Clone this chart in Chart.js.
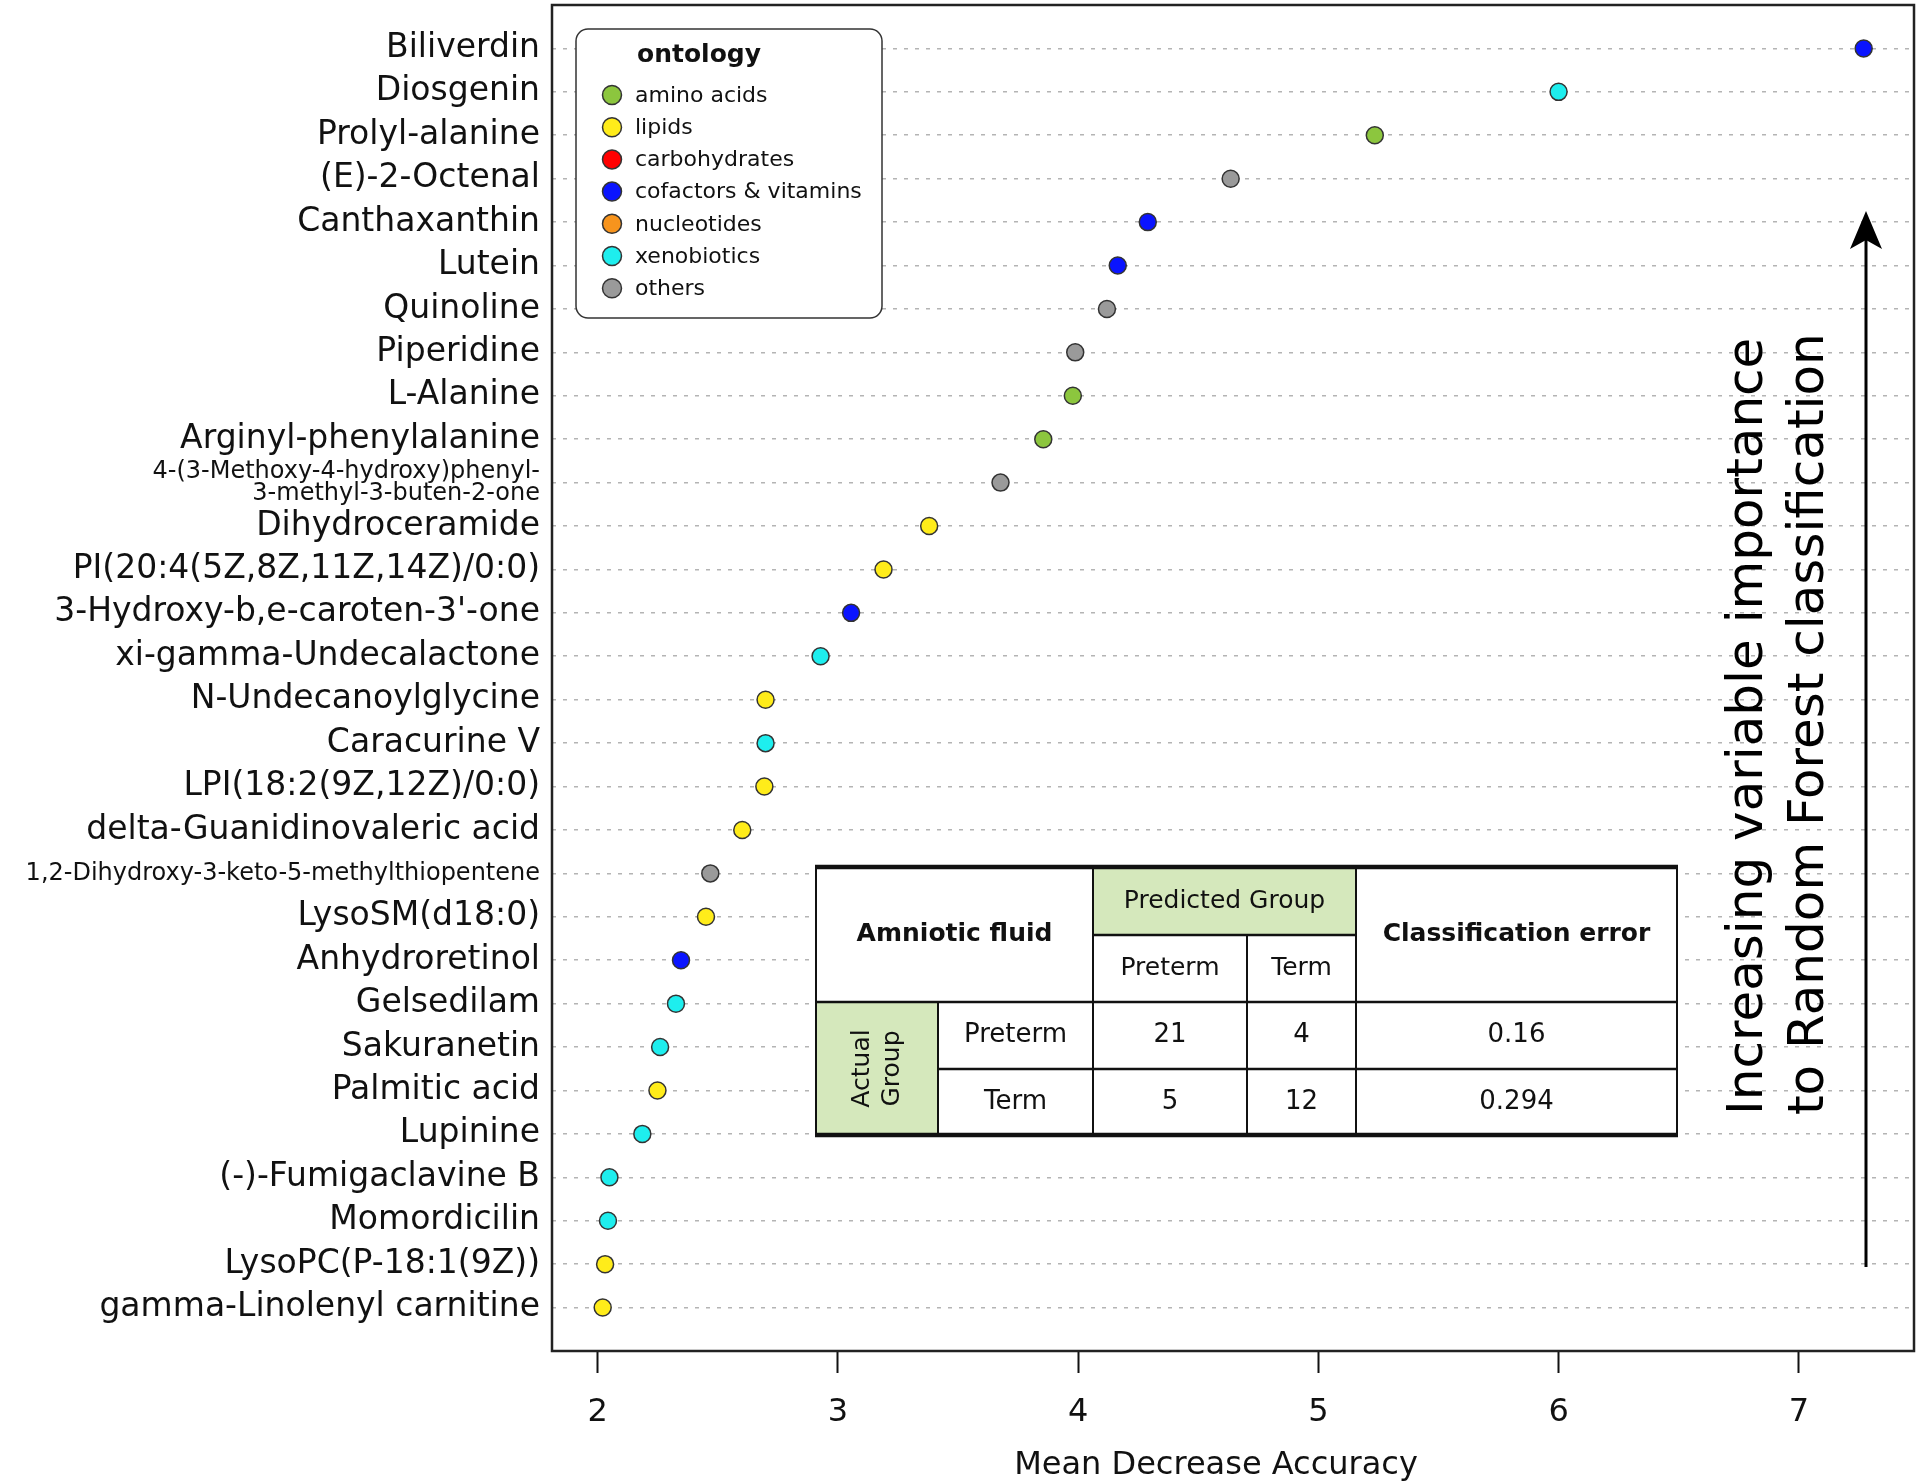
<!DOCTYPE html>
<html><head><meta charset="utf-8">
<script src="https://cdn.jsdelivr.net/npm/chart.js@4.4.1/dist/chart.umd.min.js"></script>
<style>html,body{margin:0;padding:0;background:#fff;}canvas{display:block;}</style>
</head><body>
<canvas id="c" width="1920" height="1484"></canvas>
<script>
// ---------- data ----------
const compounds = [
  'Biliverdin','Diosgenin','Prolyl-alanine','(E)-2-Octenal','Canthaxanthin','Lutein','Quinoline',
  'Piperidine','L-Alanine','Arginyl-phenylalanine','4-(3-Methoxy-4-hydroxy)phenyl-\n3-methyl-3-buten-2-one',
  'Dihydroceramide','PI(20:4(5Z,8Z,11Z,14Z)/0:0)',"3-Hydroxy-b,e-caroten-3'-one",'xi-gamma-Undecalactone',
  'N-Undecanoylglycine','Caracurine V','LPI(18:2(9Z,12Z)/0:0)','delta-Guanidinovaleric acid',
  '1,2-Dihydroxy-3-keto-5-methylthiopentene','LysoSM(d18:0)','Anhydroretinol','Gelsedilam','Sakuranetin',
  'Palmitic acid','Lupinine','(-)-Fumigaclavine B','Momordicilin','LysoPC(P-18:1(9Z))','gamma-Linolenyl carnitine'
];
const importance = [
  7.27, 6.00, 5.235, 4.635, 4.29, 4.165, 4.12,
  3.988, 3.978, 3.855, 3.677,
  3.38, 3.19, 3.055, 2.928,
  2.699, 2.699, 2.694, 2.602,
  2.469, 2.451, 2.347, 2.326, 2.26,
  2.249, 2.186, 2.049, 2.043, 2.031, 2.021
];
const ontology = [
  'cofactors & vitamins','xenobiotics','amino acids','others','cofactors & vitamins','cofactors & vitamins','others',
  'others','amino acids','amino acids','others',
  'lipids','lipids','cofactors & vitamins','xenobiotics',
  'lipids','xenobiotics','lipids','lipids',
  'others','lipids','cofactors & vitamins','xenobiotics','xenobiotics',
  'lipids','xenobiotics','xenobiotics','xenobiotics','lipids','lipids'
];
const ontologyLabels = ['amino acids','lipids','carbohydrates','cofactors & vitamins','nucleotides','xenobiotics','others'];
const ontologyColors = ['#8cc63e','#ffec1a','#ff0000','#0a14ff','#f7941d','#1eeeee','#9a9a9a'];
const legendTitle = 'ontology';
const xTicks = [2, 3, 4, 5, 6, 7];
const xTitle = 'Mean Decrease Accuracy';
const arrowText = ['Increasing variable importance', 'to Random Forest classification'];
const tableCorner = 'Amniotic fluid';
const predictedHeader = 'Predicted Group';
const actualHeader = ['Actual', 'Group'];
const errorHeader = 'Classification error';
const groupNames = ['Preterm', 'Term'];
const confusion = [[21, 4], [5, 12]];
const classError = ['0.16', '0.294'];

// ---------- chart ----------
const FONT = "'DejaVu Sans', 'Liberation Sans', sans-serif";
Chart.defaults.font.family = FONT;
Chart.defaults.color = '#111';

const rowIdx = compounds.map((_, i) => i + 1);
const points = compounds.map((_, i) => ({ x: importance[i], y: i + 1 }));
const pointColors = ontology.map(o => ontologyColors[ontologyLabels.indexOf(o)]);

function roundRectPath(ctx, x, y, w, h, r) {
  ctx.beginPath();
  ctx.moveTo(x + r, y);
  ctx.lineTo(x + w - r, y);
  ctx.arcTo(x + w, y, x + w, y + r, r);
  ctx.lineTo(x + w, y + h - r);
  ctx.arcTo(x + w, y + h, x + w - r, y + h, r);
  ctx.lineTo(x + r, y + h);
  ctx.arcTo(x, y + h, x, y + h - r, r);
  ctx.lineTo(x, y + r);
  ctx.arcTo(x, y, x + r, y, r);
  ctx.closePath();
}

function noPad(s) {
  s.paddingTop = 0; s.paddingBottom = 0; s.paddingLeft = 0; s.paddingRight = 0;
}

const decor = {
  id: 'decor',
  afterDraw(chart) {
    const ctx = chart.ctx;
    const a = chart.chartArea;
    ctx.save();

    // plot frame
    ctx.strokeStyle = '#222';
    ctx.lineWidth = 2.5;
    ctx.strokeRect(a.left, a.top, a.right - a.left, a.bottom - a.top);

    // x axis title
    ctx.fillStyle = '#111';
    ctx.font = '32px ' + FONT;
    ctx.textAlign = 'center';
    ctx.textBaseline = 'middle';
    ctx.fillText(xTitle, 1216, 1466);

    // legend
    ctx.fillStyle = '#fff';
    roundRectPath(ctx, 576, 29, 306, 289, 12);
    ctx.fill();
    ctx.strokeStyle = '#333';
    ctx.lineWidth = 1.5;
    ctx.stroke();
    ctx.fillStyle = '#111';
    ctx.font = 'bold 25px ' + FONT;
    ctx.textAlign = 'center';
    ctx.fillText(legendTitle, 699, 55);
    ctx.font = '22px ' + FONT;
    ctx.textAlign = 'left';
    ontologyLabels.forEach((lab, i) => {
      const y = 95 + i * 32.2;
      ctx.beginPath();
      ctx.arc(612, y, 9.5, 0, Math.PI * 2);
      ctx.fillStyle = ontologyColors[i];
      ctx.fill();
      ctx.strokeStyle = '#333';
      ctx.lineWidth = 1.5;
      ctx.stroke();
      ctx.fillStyle = '#111';
      ctx.fillText(lab, 635, y + 1);
    });

    // arrow
    ctx.strokeStyle = '#000';
    ctx.lineWidth = 3;
    ctx.beginPath();
    ctx.moveTo(1866, 1267);
    ctx.lineTo(1866, 240);
    ctx.stroke();
    ctx.fillStyle = '#000';
    ctx.beginPath();
    ctx.moveTo(1866, 211);
    ctx.lineTo(1882, 249);
    ctx.lineTo(1866, 240);
    ctx.lineTo(1850, 249);
    ctx.closePath();
    ctx.fill();

    // rotated annotation
    ctx.font = '50px ' + FONT;
    ctx.textAlign = 'left';
    ctx.textBaseline = 'alphabetic';
    ctx.fillStyle = '#000';
    [1762, 1823].forEach((bx, i) => {
      ctx.save();
      ctx.translate(bx, 1115);
      ctx.rotate(-Math.PI / 2);
      ctx.fillText(arrowText[i], 0, 0);
      ctx.restore();
    });

    // table
    const X = [816, 938, 1093, 1247, 1356, 1677];
    const Y = [867, 935, 1002, 1069, 1135];
    ctx.fillStyle = '#fff';
    ctx.fillRect(X[0], Y[0], X[5] - X[0], Y[4] - Y[0]);
    ctx.fillStyle = '#d5e8bc';
    ctx.fillRect(X[2], Y[0], X[4] - X[2], Y[1] - Y[0]);
    ctx.fillRect(X[0], Y[2], X[1] - X[0], Y[4] - Y[2]);
    ctx.strokeStyle = '#111';
    const line = (x1, y1, x2, y2, w) => {
      ctx.lineWidth = w;
      ctx.beginPath(); ctx.moveTo(x1, y1); ctx.lineTo(x2, y2); ctx.stroke();
    };
    line(X[0], Y[0], X[0], Y[4], 2);
    line(X[5], Y[0], X[5], Y[4], 2);
    line(X[2], Y[0], X[2], Y[4], 2);
    line(X[4], Y[0], X[4], Y[4], 2);
    line(X[3], Y[1], X[3], Y[4], 2);
    line(X[1], Y[2], X[1], Y[4], 2);
    line(X[2], Y[1], X[4], Y[1], 2.5);
    line(X[0], Y[2], X[5], Y[2], 2.5);
    line(X[1], Y[3], X[5], Y[3], 2.5);
    line(X[0] - 1, Y[0], X[5] + 1, Y[0], 4.5);
    line(X[0] - 1, Y[4], X[5] + 1, Y[4], 4.5);

    ctx.fillStyle = '#111';
    ctx.textAlign = 'center';
    ctx.textBaseline = 'middle';
    const cx = (i, j) => (X[i] + X[j]) / 2;
    const cy = (i, j) => (Y[i] + Y[j]) / 2;
    ctx.font = 'bold 25px ' + FONT;
    ctx.fillText(tableCorner, cx(0, 2), cy(0, 2));
    ctx.fillText(errorHeader, cx(4, 5), cy(0, 2));
    ctx.font = '25px ' + FONT;
    ctx.fillText(predictedHeader, cx(2, 4), cy(0, 1));
    ctx.fillText(groupNames[0], cx(2, 3), cy(1, 2));
    ctx.fillText(groupNames[1], cx(3, 4), cy(1, 2));
    ctx.font = '26px ' + FONT;
    for (let r = 0; r < 2; r++) {
      const y = cy(2 + r, 3 + r);
      ctx.fillText(groupNames[r], cx(1, 2), y);
      ctx.fillText(String(confusion[r][0]), cx(2, 3), y);
      ctx.fillText(String(confusion[r][1]), cx(3, 4), y);
      ctx.fillText(classError[r], cx(4, 5), y);
    }
    // rotated "Actual Group"
    ctx.save();
    ctx.translate(cx(0, 1), cy(2, 4));
    ctx.rotate(-Math.PI / 2);
    ctx.font = '25px ' + FONT;
    ctx.fillText(actualHeader[0], 0, -15);
    ctx.fillText(actualHeader[1], 0, 15);
    ctx.restore();

    ctx.restore();
  }
};

new Chart(document.getElementById('c'), {
  type: 'scatter',
  data: {
    datasets: [{
      data: points,
      backgroundColor: pointColors,
      borderColor: '#333',
      borderWidth: 1.5,
      pointRadius: 8.5,
      pointHoverRadius: 8.5
    }]
  },
  options: {
    responsive: false,
    animation: false,
    events: [],
    layout: { autoPadding: false, padding: { left: 0, right: 6, top: 5, bottom: 0 } },
    plugins: { legend: { display: false }, tooltip: { enabled: false } },
    scales: {
      x: {
        type: 'linear',
        min: 1.81, max: 7.4795,
        afterBuildTicks: s => { s.ticks = xTicks.map(v => ({ value: v })); },
        afterFit: s => { s.height = 133; noPad(s); },
        grid: { drawOnChartArea: false, drawTicks: true, tickLength: 22, tickColor: '#111', tickWidth: 2 },
        border: { display: false },
        ticks: { font: { size: 32 }, color: '#111', padding: 20, maxRotation: 0, autoSkip: false }
      },
      y: {
        type: 'linear',
        min: 0, max: 31, reverse: true,
        afterBuildTicks: s => { s.ticks = rowIdx.map(v => ({ value: v })); },
        afterFit: s => { s.width = 552; noPad(s); },
        grid: { color: '#b4b4b4', lineWidth: 1.6, drawTicks: false, borderDash: [4, 7] },
        border: { display: false, dash: [4, 7] },
        ticks: {
          autoSkip: false,
          padding: 12,
          color: '#111',
          callback: v => { const n = compounds[v - 1] || ''; return n.includes('\n') ? n.split('\n') : n; },
          font: c => {
            const n = (c.tick && compounds[c.tick.value - 1]) || '';
            return n.length > 35 ? { size: 24, lineHeight: 0.9 } : { size: 33 };
          }
        }
      }
    }
  },
  plugins: [decor]
});
</script>
</body></html>
